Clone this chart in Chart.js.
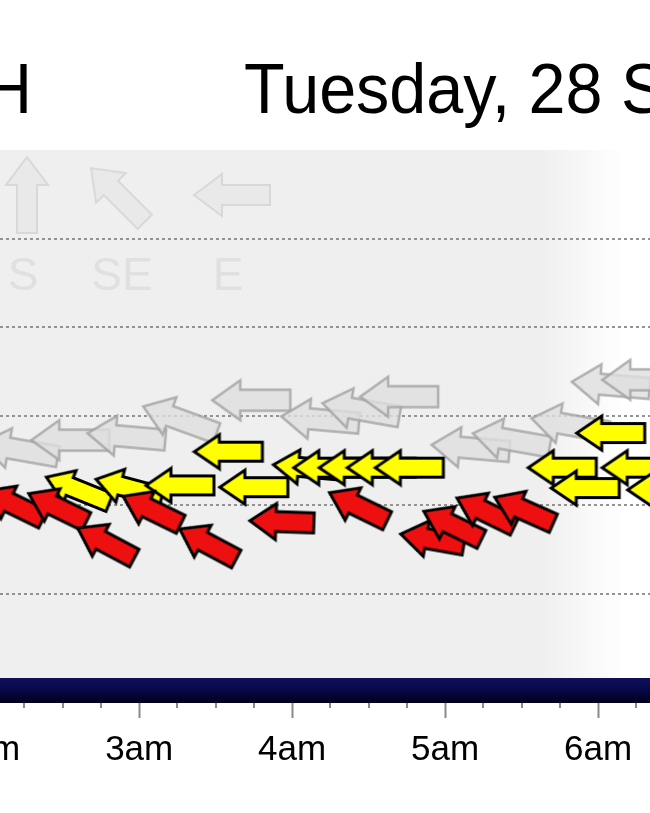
<!DOCTYPE html>
<html>
<head>
<meta charset="utf-8">
<script src="https://cdn.jsdelivr.net/npm/chart.js@4.4.1/dist/chart.umd.min.js"></script>
<style>
html, body { margin: 0; padding: 0; background: #fff; overflow: hidden; }
#wrap { position: relative; width: 650px; height: 813px; overflow: hidden; }
#chart { position: absolute; left: -120px; top: 0; }
</style>
</head>
<body>
<div id="wrap"><canvas id="chart" width="900" height="813"></canvas></div>
<script>
/* ---------------- Data ---------------- */

const titleLeft = "H";
const titleRight = "Tuesday, 28 S";

const hourTicks = [2, 3, 4, 5, 6];
const hourLabels = ["2am", "3am", "4am", "5am", "6am"];
const minorTicks = [2.25, 2.5, 2.75, 3.25, 3.5, 3.75, 4.25, 4.5, 4.75, 5.25, 5.5, 5.75, 6.25];
const gridValues = [10, 20, 30, 40, 50];

const legendLabels = ["S", "SE", "E"];
const legendDirs = [180, 135, 90];

// gusts (grey)
const gustTimes = ["2:13", "2:33", "2:55", "3:16", "3:44", "4:11", "4:27", "4:42", "5:10", "5:26", "5:49", "6:05", "6:17"];
const gustSpeeds = [26.2, 27.3, 27.7, 29.6, 31.8, 29.6, 30.7, 32.2, 26.4, 27.3, 29.0, 33.5, 34.1];
const gustDirs = [100, 90, 95, 110, 90, 95, 100, 90, 95, 100, 100, 95, 90];

// average (yellow)
const avgTimes = ["2:36", "2:56", "3:16", "3:35", "3:45", "4:06", "4:14", "4:24", "4:35", "4:46", "5:46", "5:55", "6:05", "6:15", "6:25"];
const avgSpeeds = [21.7, 21.9, 22.2, 26.0, 22.0, 24.2, 24.2, 24.2, 24.2, 24.2, 24.2, 21.9, 28.1, 24.2, 21.7];
const avgDirs = [112, 105, 90, 90, 90, 95, 90, 90, 90, 90, 90, 90, 90, 90, 90];

// lulls (red)
const lullTimes = ["2:11", "2:28", "2:47", "3:05", "3:27", "3:56", "4:26", "4:55", "5:03", "5:16", "5:31"];
const lullSpeeds = [20.0, 19.7, 15.7, 19.4, 15.6, 18.1, 19.8, 16.1, 17.7, 19.2, 19.4];
const lullDirs = [116, 116, 118, 116, 118, 92, 116, 100, 116, 116, 114];

/* ---------------- Helpers ---------------- */

function toHours(t) {
    const [h, m] = t.split(":").map(Number);
    return h + m / 60;
}

function toPoints(times, speeds) {
    return times.map((t, i) => ({ x: toHours(t), y: speeds[i] }));
}

// block arrow pointing up, rotated by Chart.js
function arrowIcon(fill, stroke, len, head, shaft, headLen, lw) {
    const pad = 3;
    const c = document.createElement("canvas");
    c.width = head + pad * 2;
    c.height = len + pad * 2;
    const g = c.getContext("2d");
    const cx = c.width / 2, top = pad, bot = pad + len;
    g.beginPath();
    g.moveTo(cx, top);
    g.lineTo(cx + head / 2, top + headLen);
    g.lineTo(cx + shaft / 2, top + headLen);
    g.lineTo(cx + shaft / 2, bot);
    g.lineTo(cx - shaft / 2, bot);
    g.lineTo(cx - shaft / 2, top + headLen);
    g.lineTo(cx - head / 2, top + headLen);
    g.closePath();
    g.fillStyle = fill;
    g.fill();
    g.lineJoin = "miter";
    g.lineWidth = lw;
    g.strokeStyle = stroke;
    g.stroke();
    return c;
}

const redIcon = arrowIcon("#ee1010", "#000", 64, 36, 20, 26, 3);
const yellowIcon = arrowIcon("#ffff00", "#000", 68, 34, 19, 25, 3);
const greyIcon = arrowIcon("rgba(222,222,222,0.8)", "rgba(160,160,160,0.8)", 78, 40, 21, 28, 2.5);
const legendIcon = arrowIcon("#e9e9e9", "#d8d8d8", 76, 42, 20, 28, 2);

/* ---------------- Plugins ---------------- */

const decor = {
    id: "decor",
    beforeDraw(chart) {
        const { ctx, chartArea: a } = chart;
        ctx.save();
        ctx.fillStyle = "#fff";
        ctx.fillRect(0, 0, chart.width, chart.height);

        const grad = ctx.createLinearGradient(a.left, 0, a.right, 0);
        grad.addColorStop(0, "#efefef");
        grad.addColorStop(0.83, "#efefef");
        grad.addColorStop(0.96, "#ffffff");
        ctx.fillStyle = grad;
        ctx.fillRect(a.left, a.top, a.right - a.left, a.bottom - a.top);

        // direction legend
        const lx = [27, 118, 232];
        legendDirs.forEach((d, i) => {
            ctx.save();
            ctx.translate(a.left + lx[i], a.top + 45);
            ctx.rotate((d + 180) * Math.PI / 180);
            ctx.drawImage(legendIcon, -legendIcon.width / 2, -legendIcon.height / 2);
            ctx.restore();
        });
        const tx = [23, 122, 228];
        ctx.fillStyle = "#e0e0e0";
        ctx.font = "46px 'Liberation Sans', Arial, sans-serif";
        ctx.textAlign = "center";
        ctx.textBaseline = "alphabetic";
        legendLabels.forEach((s, i) => ctx.fillText(s, a.left + tx[i], a.top + 140));
        ctx.restore();
    },
    beforeDatasetsDraw(chart) {
        const { ctx, chartArea: a } = chart;
        const xs = chart.scales.x;
        ctx.save();
        const g = ctx.createLinearGradient(0, a.bottom, 0, a.bottom + 25);
        g.addColorStop(0, "#10105c");
        g.addColorStop(0.45, "#08084a");
        g.addColorStop(1, "#00001c");
        ctx.fillStyle = g;
        ctx.fillRect(a.left, a.bottom, a.right - a.left, 25);

        ctx.strokeStyle = "#8a8a8a";
        ctx.lineWidth = 2;
        minorTicks.forEach(t => {
            const x = Math.round(xs.getPixelForValue(t));
            ctx.beginPath();
            ctx.moveTo(x, a.bottom + 25);
            ctx.lineTo(x, a.bottom + 30);
            ctx.stroke();
        });
        ctx.restore();
    },
    afterDraw(chart) {
        const { ctx, chartArea: a } = chart;
        ctx.save();
        ctx.fillStyle = "#000";
        ctx.font = "70px 'Liberation Sans', Arial, sans-serif";
        ctx.textBaseline = "alphabetic";
        ctx.textAlign = "left";
        [[titleLeft, -16], [titleRight, 244]].forEach(([s, x]) => {
            ctx.save();
            ctx.translate(a.left + x, 113);
            ctx.scale(0.95, 1);
            ctx.fillText(s, 0, 0);
            ctx.restore();
        });
        ctx.restore();
    }
};

/* ---------------- Chart ---------------- */

function arrowSet(label, times, speeds, dirs, icon) {
    return {
        label,
        data: toPoints(times, speeds),
        pointStyle: icon,
        pointRadius: 40,
        pointBorderWidth: 0,
        pointRotation: ctx => dirs[ctx.dataIndex] + 180,
        showLine: false,
        clip: false
    };
}

new Chart(document.getElementById("chart"), {
    type: "scatter",
    data: {
        datasets: [
            arrowSet("Lull", lullTimes, lullSpeeds, lullDirs, redIcon),
            arrowSet("Average", avgTimes, avgSpeeds, avgDirs, yellowIcon),
            arrowSet("Gust", gustTimes, gustSpeeds, gustDirs, greyIcon)
        ]
    },
    options: {
        responsive: false,
        animation: false,
        events: [],
        layout: { padding: { left: 120, right: 130, top: 150, bottom: 0 } },
        plugins: {
            legend: { display: false },
            tooltip: { enabled: false }
        },
        scales: {
            x: {
                type: "linear",
                min: 2.09,
                max: 6.34,
                afterBuildTicks(scale) {
                    scale.ticks = hourTicks.map(v => ({ value: v }));
                },
                afterFit(scale) {
                    scale.height = 135;
                },
                ticks: {
                    autoSkip: false,
                    maxRotation: 0,
                    padding: 11,
                    color: "#000",
                    font: { family: "'Liberation Sans', Arial, sans-serif", size: 35 },
                    callback(value) {
                        return hourLabels[hourTicks.indexOf(value)];
                    }
                },
                grid: {
                    drawOnChartArea: false,
                    tickLength: 40,
                    tickWidth: 2,
                    tickColor: "#8a8a8a",
                    color: "#8a8a8a"
                },
                border: { display: false }
            },
            y: {
                min: 0.5,
                max: 60,
                afterBuildTicks(scale) {
                    scale.ticks = gridValues.map(v => ({ value: v }));
                },
                ticks: { display: false },
                grid: { drawTicks: false, color: "#939393", lineWidth: 2 },
                border: { display: false, dash: [3, 3] }
            }
        }
    },
    plugins: [decor]
});
</script>
</body>
</html>
